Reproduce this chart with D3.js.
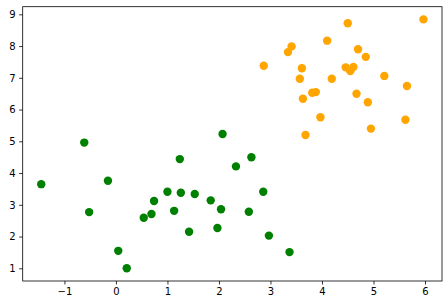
<!DOCTYPE html>
<html><head><meta charset="utf-8">
<script src="https://cdn.jsdelivr.net/npm/d3@7"></script>
<style>body{margin:0;background:#fff}svg{display:block}</style>
</head><body>
<svg id="c" width="447" height="304"></svg>
<script>
const greenX = [-1.45, -0.52, -0.155, 0.045, 0.21, 0.54, 0.69, -0.615, 1.24, 2.33, 2.63, 1.0, 1.26, 1.53, 0.74, 1.84, 2.04, 1.13, 2.58, 2.86, 1.42, 1.97, 2.97, 3.37, 2.07];
const greenY = [3.65, 2.77, 3.76, 1.55, 1.0, 2.59, 2.71, 4.96, 4.44, 4.21, 4.50, 3.41, 3.38, 3.34, 3.12, 3.14, 2.86, 2.81, 2.78, 3.41, 2.15, 2.27, 2.03, 1.51, 5.23];
const orangeX = [4.50, 5.97, 4.10, 3.41, 3.34, 4.70, 4.85, 3.61, 3.57, 4.46, 4.61, 4.55, 4.19, 5.21, 5.65, 3.81, 3.88, 3.63, 4.67, 4.89, 3.97, 5.62, 4.95, 3.68, 2.87];
const orangeY = [8.72, 8.84, 8.17, 7.99, 7.81, 7.90, 7.66, 7.30, 6.97, 7.33, 7.34, 7.21, 6.97, 7.06, 6.74, 6.53, 6.55, 6.34, 6.50, 6.23, 5.76, 5.68, 5.40, 5.20, 7.38];
const xTicks = [-1, 0, 1, 2, 3, 4, 5, 6];
const yTicks = [1, 2, 3, 4, 5, 6, 7, 8, 9];

const svg = d3.select('#c');
const L = 22.7, R = 442, T = 6.7, B = 281;
const x = d3.scaleLinear().domain([-1.81, 6.33]).range([L, R]);
const y = d3.scaleLinear().domain([0.6, 9.24]).range([B, T]);
const fmt = d => d < 0 ? '\u2212' + Math.abs(d) : String(d);

const xa = svg.append('g').attr('transform', `translate(0,${B})`)
  .call(d3.axisBottom(x).tickValues(xTicks).tickFormat(fmt).tickSize(3.5).tickPadding(3.5));
const ya = svg.append('g').attr('transform', `translate(${L},0)`)
  .call(d3.axisLeft(y).tickValues(yTicks).tickFormat(fmt).tickSize(3.5).tickPadding(3.5));
[xa, ya].forEach(g => {
  g.select('.domain').remove();
  g.selectAll('line').attr('stroke', '#000').attr('stroke-width', 0.8);
  g.selectAll('text').attr('font-family', 'DejaVu Sans').attr('font-size', 10).attr('fill', '#000');
});

svg.append('rect').attr('x', L).attr('y', T).attr('width', R - L).attr('height', B - T)
  .attr('fill', 'none').attr('stroke', '#000').attr('stroke-width', 0.8);

const plot = svg.append('g');
plot.selectAll('.g').data(greenX.map((v, i) => [v, greenY[i]])).enter().append('circle')
  .attr('cx', d => x(d[0])).attr('cy', d => y(d[1])).attr('r', 4.2).attr('fill', 'green');
plot.selectAll('.o').data(orangeX.map((v, i) => [v, orangeY[i]])).enter().append('circle')
  .attr('cx', d => x(d[0])).attr('cy', d => y(d[1])).attr('r', 4.2).attr('fill', 'orange');
</script>
</body></html>
